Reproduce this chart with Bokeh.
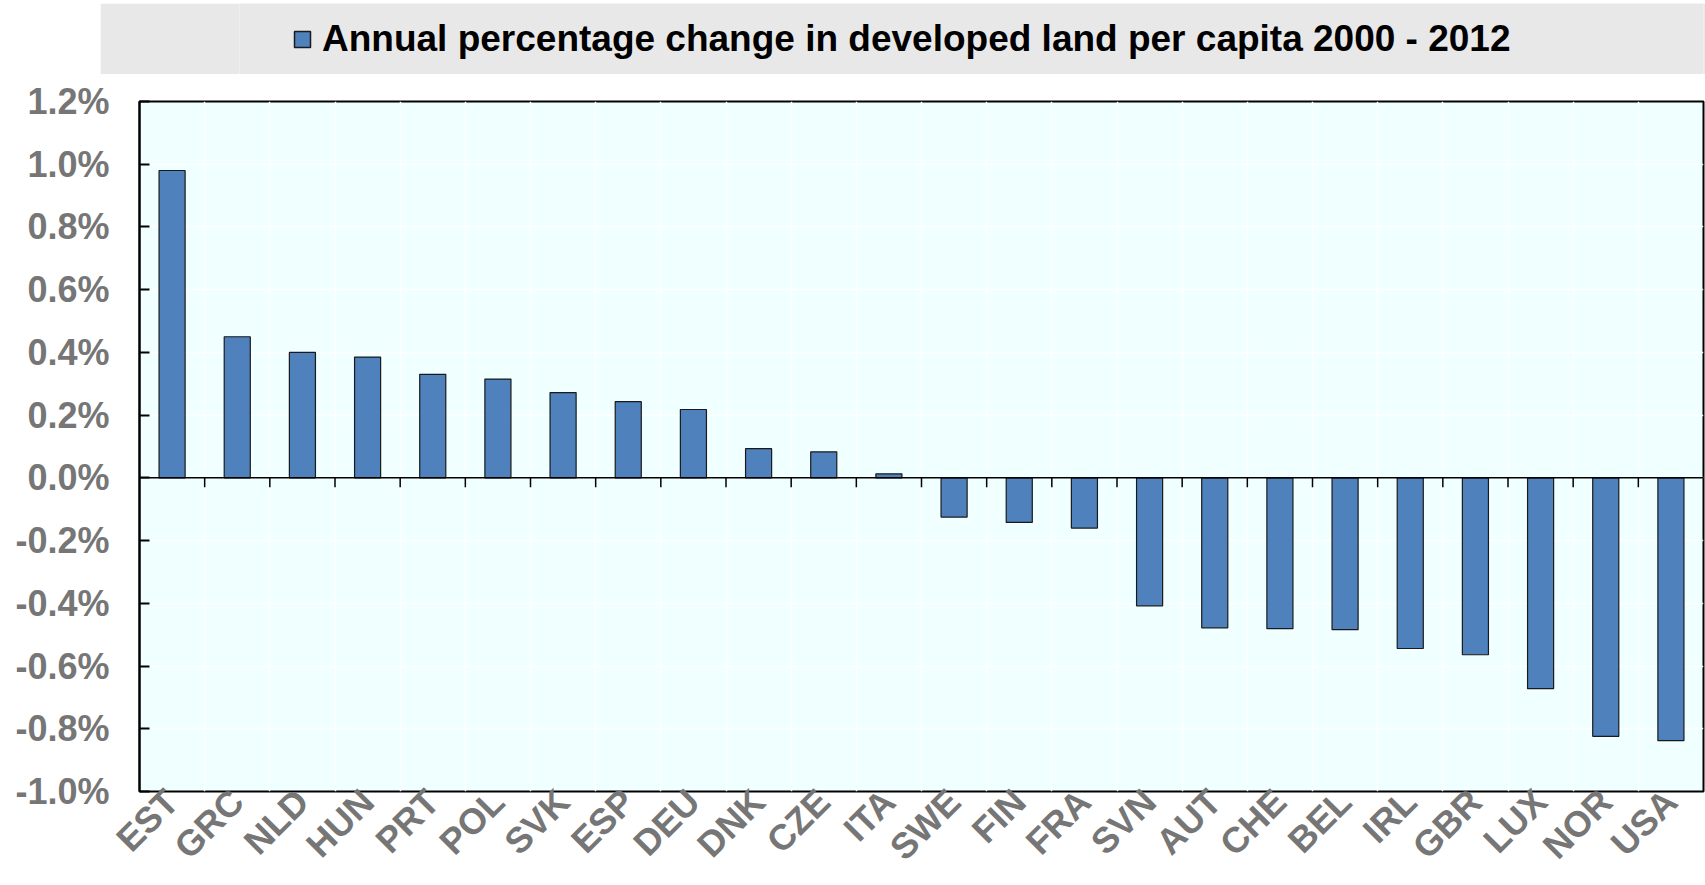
# 先進国の一人当たり開発地の年変化率 (2000-2012) を棒グラフで再現

# %%
from math import pi

from bokeh.embed import file_html
from bokeh.layouts import column
from bokeh.models import FixedTicker, NumeralTickFormatter, Range1d, Span
from bokeh.plotting import figure
from bokeh.resources import INLINE

# %%
# データ (グラフから読み取った値, 単位は%)
countries = ["EST", "GRC", "NLD", "HUN", "PRT", "POL", "SVK", "ESP", "DEU", "DNK", "CZE", "ITA",
             "SWE", "FIN", "FRA", "SVN", "AUT", "CHE", "BEL", "IRL", "GBR", "LUX", "NOR", "USA"]
change_pct = [0.98, 0.45, 0.40, 0.385, 0.33, 0.315, 0.272, 0.243, 0.218, 0.093, 0.083, 0.013,
              -0.125, -0.142, -0.16, -0.408, -0.478, -0.481, -0.484, -0.544, -0.564, -0.672, -0.824, -0.838]
y_ticks_pct = [-1.0, -0.8, -0.6, -0.4, -0.2, 0.0, 0.2, 0.4, 0.6, 0.8, 1.0, 1.2]
series_name = "Annual percentage change in developed land per capita 2000 - 2012"

# %%
FONT = "Liberation Sans"
GREY = "#767676"
BAR = "#4F81BD"

x_pos = [i + 0.5 for i in range(len(countries))]
bounds = list(range(1, len(countries)))
values = [v / 100 for v in change_pct]
y_ticks = [t / 100 for t in y_ticks_pct]

# 上の凡例ボックス (軸なし)
top = figure(width=1605, height=71, x_range=Range1d(0, 1), y_range=Range1d(0, 1),
             x_axis_location=None, y_axis_location=None,
             toolbar_location=None, output_backend="svg", min_border=0, margin=(3, 0, 0, 100))
top.grid.visible = False
top.outline_line_color = None
top.background_fill_color = "#E8E8E8"
top.border_fill_color = "#E8E8E8"
# 凡例用 (非表示のレンダラー)
top.vbar(x=x_pos, top=values, width=0.4, fill_color=BAR, line_color="#1A1A1A", line_width=1.5,
         legend_label=series_name, visible=False)
lg = top.legend[0]
lg.location = (53, 14)
lg.label_text_font = FONT
lg.label_text_font_style = "bold"
lg.label_text_font_size = "37px"
lg.label_text_color = "black"
lg.glyph_width = 20
lg.glyph_height = 20
lg.label_standoff = 10
lg.padding = 0
lg.margin = 0
lg.background_fill_alpha = 0
lg.border_line_color = None
lg.inactive_fill_alpha = 0

# %%
# 棒グラフ本体
p = figure(width=1705, height=811, x_range=Range1d(0, len(countries)), y_range=Range1d(-0.010, 0.012),
           toolbar_location=None, output_backend="svg",
           min_border_left=139, min_border_right=2, min_border_top=27, min_border_bottom=80)
p.background_fill_color = "#F0FFFF"
p.border_fill_color = "white"
p.outline_line_color = "black"
p.outline_line_width = 2

p.xgrid.ticker = FixedTicker(ticks=bounds)
p.ygrid.ticker = FixedTicker(ticks=y_ticks)
p.grid.grid_line_color = "white"
p.grid.grid_line_width = 1.5

p.vbar(x=x_pos, top=values, bottom=0, width=0.4, fill_color=BAR, line_color="#1A1A1A", line_width=1.2)
p.add_layout(Span(location=0, dimension="width", line_color="black", line_width=1.5))
# ゼロ線上の目盛り
p.segment(x0=bounds, y0=[0] * len(bounds), x1=bounds, y1=[-0.0003] * len(bounds),
          line_color="black", line_width=1.5)

p.yaxis.ticker = FixedTicker(ticks=y_ticks)
p.yaxis.formatter = NumeralTickFormatter(format="0.0%")
p.yaxis.major_tick_in = 10
p.yaxis.major_tick_out = 0
p.yaxis.minor_tick_line_color = None
p.yaxis.major_tick_line_width = 2
p.yaxis.axis_line_width = 2
p.yaxis.major_label_standoff = 30

p.xaxis.ticker = FixedTicker(ticks=x_pos)
p.xaxis.major_label_overrides = {x: c for x, c in zip(x_pos, countries)}
p.xaxis.major_label_orientation = pi / 4
p.xaxis.major_tick_line_color = None
p.xaxis.minor_tick_line_color = None
p.xaxis.axis_line_color = None
p.xaxis.major_label_standoff = -2

for ax in (p.xaxis, p.yaxis):
    ax.major_label_text_font = FONT
    ax.major_label_text_font_style = "bold"
    ax.major_label_text_font_size = "36px"
    ax.major_label_text_color = GREY

layout = column(top, p)
open("out.html", "w").write(file_html(layout, INLINE))
